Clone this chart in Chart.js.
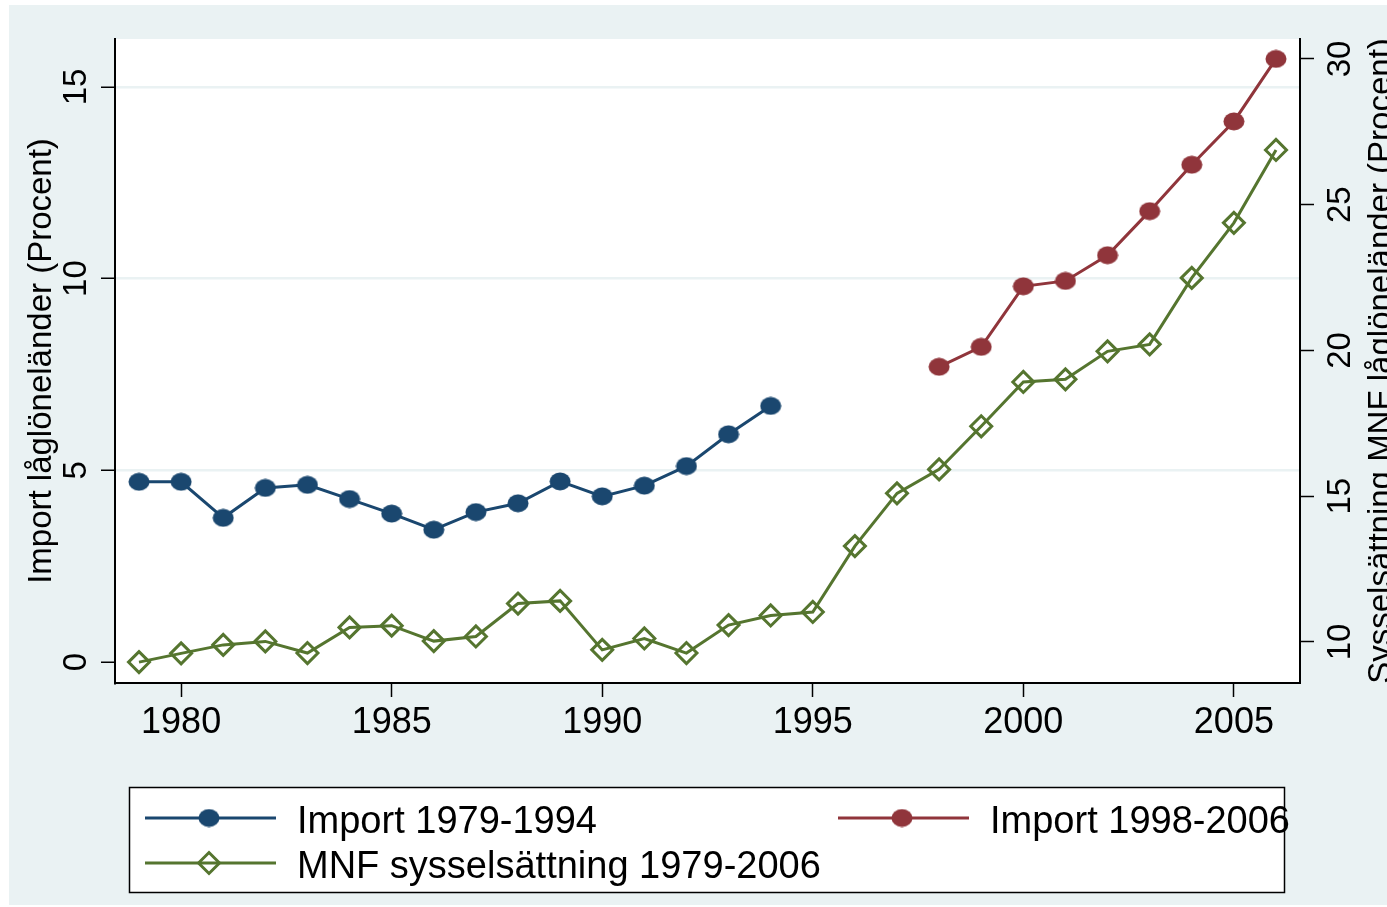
<!DOCTYPE html>
<html><head><meta charset="utf-8">
<script src="https://cdn.jsdelivr.net/npm/chart.js@4/dist/chart.umd.min.js"></script>
<style>html,body{margin:0;padding:0;background:#fff;overflow:hidden}canvas{display:block}</style>
</head><body>
<canvas id="c" width="1387" height="907"></canvas>
<script>
// ---- data ----
const years1 = [1979,1980,1981,1982,1983,1984,1985,1986,1987,1988,1989,1990,1991,1992,1993,1994];
const import1 = [4.70,4.70,3.76,4.54,4.62,4.25,3.87,3.45,3.91,4.14,4.71,4.32,4.60,5.11,5.94,6.68];
const years2 = [1998,1999,2000,2001,2002,2003,2004,2005,2006];
const import2 = [7.70,8.22,9.80,9.94,10.61,11.76,12.97,14.10,15.73];
const yearsMnf = [1979,1980,1981,1982,1983,1984,1985,1986,1987,1988,1989,1990,1991,1992,1993,1994,1995,1996,1997,1998,1999,2000,2001,2002,2003,2004,2005,2006];
const mnf = [9.31,9.61,9.90,10.02,9.62,10.50,10.56,10.03,10.19,11.32,11.41,9.73,10.12,9.62,10.58,10.91,11.03,13.29,15.10,15.92,17.40,18.92,19.01,19.97,20.21,22.49,24.38,26.88];
const xTicks = [1980,1985,1990,1995,2000,2005];
const leftTicks = [0,5,10,15];
const rightTicks = [10,15,20,25,30];
const seriesLabels = ['Import 1979-1994','Import 1998-2006','MNF sysselsättning 1979-2006'];
const leftTitle = 'Import låglöneländer (Procent)';
const rightTitle = 'Sysselsättning MNF låglöneländer (Procent)';

// ---- style ----
const FONT = '"Liberation Sans", Arial, Helvetica, sans-serif';
const BLUE = '#1A476F', RED = '#90353B', GREEN = '#55752F', BG = '#EAF2F3';

const pts = (xs, ys) => xs.map((x, i) => ({x: x, y: ys[i]}));

function ellipseMarker(color) {
  const c = document.createElement('canvas');
  c.width = 22; c.height = 19;
  const g = c.getContext('2d');
  g.fillStyle = color;
  g.beginPath();
  g.ellipse(11, 9.5, 10.5, 9, 0, 0, Math.PI * 2);
  g.fill();
  return c;
}
const blueDot = ellipseMarker(BLUE);
const redDot = ellipseMarker(RED);

const decor = {
  id: 'decor',
  beforeDraw(chart) {
    const ctx = chart.ctx, a = chart.chartArea;
    ctx.save();
    ctx.fillStyle = '#fff';
    ctx.fillRect(0, 0, chart.width, chart.height);
    ctx.fillStyle = BG;
    ctx.fillRect(9, 5, chart.width - 9, 900);
    ctx.fillStyle = '#fff';
    ctx.fillRect(a.left, a.top, a.right - a.left, a.bottom - a.top);
    ctx.restore();
  },
  afterDraw(chart) {
    const ctx = chart.ctx;
    ctx.save();
    // right axis title (reads bottom to top)
    ctx.fillStyle = '#000';
    ctx.font = '33px ' + FONT;
    ctx.textAlign = 'center';
    ctx.textBaseline = 'alphabetic';
    const a = chart.chartArea;
    ctx.translate(1391, (a.top + a.bottom) / 2);
    ctx.rotate(-Math.PI / 2);
    ctx.fillText(rightTitle, 0, 0);
    ctx.restore();

    // legend
    ctx.save();
    ctx.fillStyle = '#fff';
    ctx.fillRect(129, 787, 1155, 105);
    ctx.strokeStyle = '#000';
    ctx.lineWidth = 1.5;
    ctx.strokeRect(129.5, 787.5, 1155, 105);
    const items = [
      {ds: 0, x: 145, y: 818},
      {ds: 1, x: 838, y: 818},
      {ds: 2, x: 145, y: 863}
    ];
    items.forEach(it => {
      const d = chart.data.datasets[it.ds];
      ctx.strokeStyle = d.borderColor;
      ctx.lineWidth = 3;
      ctx.beginPath();
      ctx.moveTo(it.x, it.y);
      ctx.lineTo(it.x + 131, it.y);
      ctx.stroke();
      ctx.fillStyle = d.pointBackgroundColor;
      ctx.strokeStyle = d.pointBorderColor;
      ctx.lineWidth = d.pointBorderWidth;
      Chart.helpers.drawPoint(ctx, {pointStyle: d.pointStyle, radius: d.pointRadius, rotation: 0, borderWidth: d.pointBorderWidth}, it.x + 64, it.y);
      ctx.fillStyle = '#000';
      ctx.font = '38px ' + FONT;
      ctx.textAlign = 'left';
      ctx.textBaseline = 'alphabetic';
      ctx.fillText(d.label, it.x + 152, it.y + 15);
    });
    ctx.restore();
  }
};

new Chart(document.getElementById('c'), {
  type: 'line',
  data: {
    datasets: [
      {label: seriesLabels[0], data: pts(years1, import1), yAxisID: 'y',
       borderColor: BLUE, backgroundColor: BLUE, pointBackgroundColor: BLUE, pointBorderColor: BLUE,
       pointStyle: blueDot, pointRadius: 9, pointBorderWidth: 0, borderWidth: 3, tension: 0},
      {label: seriesLabels[1], data: pts(years2, import2), yAxisID: 'y',
       borderColor: RED, backgroundColor: RED, pointBackgroundColor: RED, pointBorderColor: RED,
       pointStyle: redDot, pointRadius: 9, pointBorderWidth: 0, borderWidth: 3, tension: 0},
      {label: seriesLabels[2], data: pts(yearsMnf, mnf), yAxisID: 'y2',
       borderColor: GREEN, backgroundColor: 'rgba(0,0,0,0)', pointBackgroundColor: 'rgba(0,0,0,0)', pointBorderColor: GREEN,
       pointStyle: 'rectRot', pointRadius: 10.5, pointBorderWidth: 3, borderWidth: 3, tension: 0}
    ]
  },
  options: {
    responsive: false,
    devicePixelRatio: 1,
    animation: false,
    events: [],
    layout: {padding: {top: 39, left: 0, right: 0, bottom: 0}},
    plugins: {legend: {display: false}, tooltip: {enabled: false}},
    scales: {
      x: {
        type: 'linear', position: 'bottom', min: 1978.43, max: 2006.57,
        afterBuildTicks: s => { s.ticks = xTicks.map(v => ({value: v})); },
        afterFit: s => { s.height = 224; },
        grid: {drawOnChartArea: false, drawTicks: true, tickLength: 14, tickColor: '#000', tickWidth: 1.5},
        border: {display: true, color: '#000', width: 2},
        ticks: {font: {size: 36, family: FONT}, color: '#000', padding: 4, maxRotation: 0, minRotation: 0, autoSkip: false,
                callback: v => String(v)}
      },
      y: {
        type: 'linear', position: 'left', min: -0.548, max: 16.25,
        afterBuildTicks: s => { s.ticks = leftTicks.map(v => ({value: v})); },
        afterFit: s => { s.width = 115; },
        grid: {drawOnChartArea: true, lineWidth: 2.5,
               color: c => (c.tick && c.tick.value === 0) ? 'rgba(0,0,0,0)' : BG,
               tickLength: 14, tickColor: '#000', tickWidth: 1.5},
        border: {display: true, color: '#000', width: 2},
        ticks: {font: {size: 33, family: FONT}, color: '#000', padding: 6, minRotation: 90, maxRotation: 90,
                crossAlign: 'center', autoSkip: false, callback: v => String(v)},
        title: {display: true, text: leftTitle, color: '#000', font: {size: 33, family: FONT}, padding: {top: 22, bottom: 0}}
      },
      y2: {
        type: 'linear', position: 'right', min: 8.593, max: 30.686,
        afterBuildTicks: s => { s.ticks = rightTicks.map(v => ({value: v})); },
        afterFit: s => { s.width = 87; },
        grid: {drawOnChartArea: false, tickLength: 14, tickColor: '#000', tickWidth: 1.5},
        border: {display: true, color: '#000', width: 2},
        ticks: {font: {size: 33, family: FONT}, color: '#000', padding: 9, minRotation: 90, maxRotation: 90,
                crossAlign: 'center', autoSkip: false, callback: v => String(v)}
      }
    }
  },
  plugins: [decor]
});
</script>
</body></html>
